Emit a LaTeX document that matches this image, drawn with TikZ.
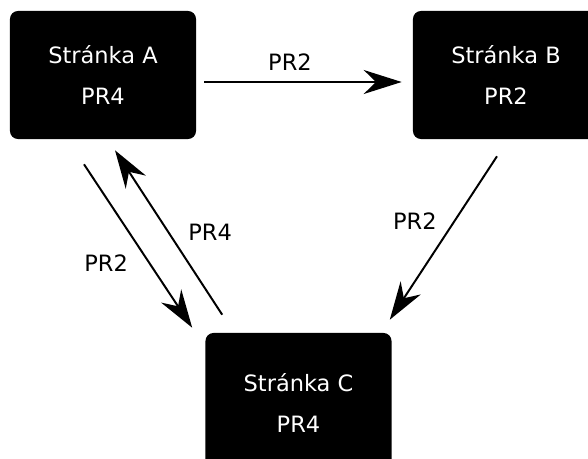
\documentclass[tikz,border=0pt]{standalone}
\usepackage{fontspec}
\setmainfont{DejaVu Sans}
\usepackage{tikz}
\usetikzlibrary{arrows.meta,positioning,calc}
\tikzset{
  page/.style={rectangle,rounded corners=0.2cm,fill=black,draw=none,
               minimum width=4.65cm,minimum height=3.2cm,inner sep=0pt,
               text=white,align=center,font=\fontsize{16}{29.8}\selectfont},
  link/.style={-{Stealth[length=0.95cm,width=0.6cm]},line width=1.4pt,black},
  lbl/.style={font=\fontsize{16}{18}\selectfont,inner sep=0pt},
}

\begin{document}
\begin{tikzpicture}[x=0.025cm,y=-0.025cm]
  \clip (0,0) rectangle (588,459);
  \node[page] (A) at (103,75) {Stránka A\\PR4};
  \node[page] (B) at (506,75) {Stránka B\\PR2};
  \node[page,minimum height=3.5cm] (C) at (298.5,403) {Stránka C\\PR4};
  % odkazy
  \draw[link] ([shift={(8,7)}]A.east) -- ([shift={(-11,7)}]B.west)
    node[lbl,midway,shift={(-13,-20)}] {PR2};
  \draw[link] ([shift={(-19,25)}]A.south) -- ([shift={(-13,-5)}]C.north west)
    node[lbl,midway,shift={(-32,17)}] {PR2};
  \draw[link] ([shift={(17,-18)}]C.north west) -- ([shift={(12,11)}]A.south)
    node[lbl,midway,shift={(41.5,0)}] {PR4};
  \draw[link] ([shift={(-9,17)}]B.south) -- ([shift={(-2,-13)}]C.north east)
    node[lbl,midway,shift={(-28.5,-17)}] {PR2};
\end{tikzpicture}
\end{document}
